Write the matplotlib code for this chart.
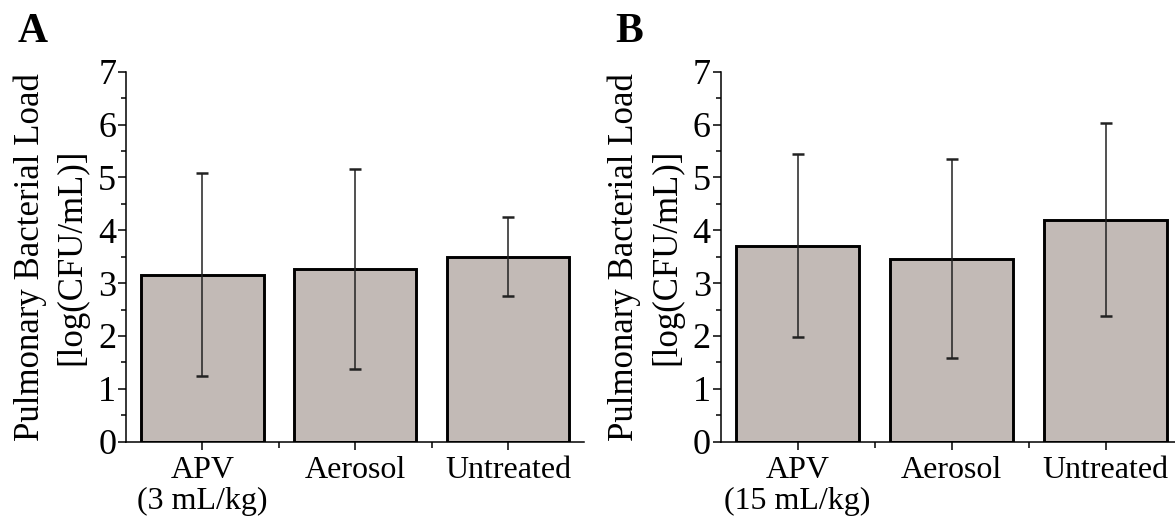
import numpy as np
import matplotlib
matplotlib.use('Agg')
import matplotlib.pyplot as plt
from matplotlib.ticker import MultipleLocator, FixedLocator

# data
categories_a = ['APV\n(3 mL/kg)', 'Aerosol', 'Untreated']
categories_b = ['APV\n(15 mL/kg)', 'Aerosol', 'Untreated']
load_a = [3.16, 3.26, 3.50]
err_a = [1.92, 1.89, 0.75]
load_b = [3.71, 3.46, 4.20]
err_b = [1.73, 1.88, 1.82]

bar_color = '#c2bab6'

plt.rcParams['font.family'] = ['Liberation Serif', 'DejaVu Serif']

fig = plt.figure(figsize=(11.75, 5.25), dpi=100)

ax_a = fig.add_axes([126 / 1175, 1 - 441.7 / 525, 458.5 / 1175, 370 / 525])
ax_b = fig.add_axes([720.5 / 1175, 1 - 441.7 / 525, 462 / 1175, 370 / 525])


def draw_panel(ax, cats, vals, errs):
    x = np.arange(len(cats))
    ax.bar(x, vals, width=0.8, color=bar_color, edgecolor='black', linewidth=2.1, zorder=2)
    ax.errorbar(x, vals, yerr=errs, fmt='none', ecolor='#222222', elinewidth=1.1,
                capsize=4.5, capthick=1.8, zorder=3)
    ax.set_xlim(-0.5, 2.5)
    ax.set_ylim(0, 7)
    ax.set_xticks(x)
    ax.set_xticklabels(cats, fontsize=23, linespacing=1.1)
    ax.xaxis.set_minor_locator(FixedLocator([0.5, 1.5]))
    ax.yaxis.set_major_locator(MultipleLocator(1))
    ax.yaxis.set_minor_locator(MultipleLocator(0.5))
    ax.tick_params(axis='y', which='major', direction='out', length=6, width=1.1, labelsize=26, pad=1)
    ax.tick_params(axis='y', which='minor', direction='out', length=3.5, width=1.1)
    ax.tick_params(axis='x', which='major', direction='out', length=6, width=1.1, pad=4)
    ax.tick_params(axis='x', which='minor', direction='out', length=4, width=1.1)
    for side in ['top', 'right']:
        ax.spines[side].set_visible(False)
    for side in ['left', 'bottom']:
        ax.spines[side].set_linewidth(1.1)
    ax.set_ylabel('Pulmonary Bacterial Load\n[log(CFU/mL)]', fontsize=25, linespacing=1.35, labelpad=7)


draw_panel(ax_a, categories_a, load_a, err_a)
draw_panel(ax_b, categories_b, load_b, err_b)

fig.text(18 / 1175, 1 - 42 / 525, 'A', fontsize=30, fontweight='bold')
fig.text(615 / 1175, 1 - 42 / 525, 'B', fontsize=30, fontweight='bold')

fig.savefig('out.png', dpi=100)
